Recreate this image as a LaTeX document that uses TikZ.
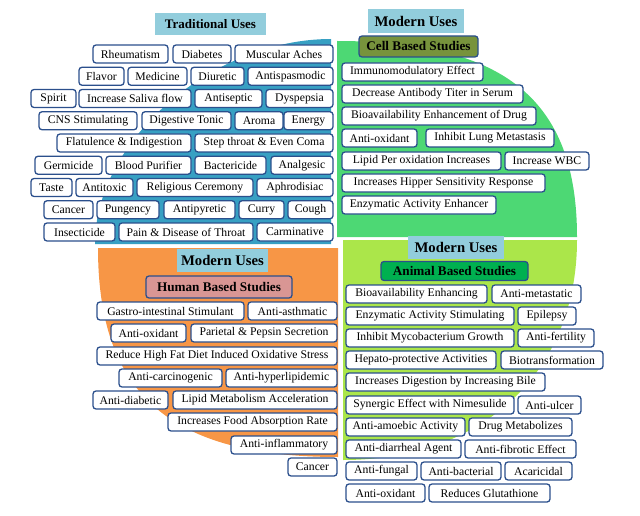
\documentclass[tikz,border=0pt]{standalone}
\usepackage{fontspec}
\setmainfont{Liberation Serif}
\definecolor{tealq}{HTML}{37A0C3}
\definecolor{greenq}{HTML}{4DD874}
\definecolor{limeq}{HTML}{ABE64A}
\definecolor{orangeq}{HTML}{F79646}
\definecolor{headblue}{HTML}{92CDDC}
\definecolor{cellolive}{HTML}{77933C}
\definecolor{humanrose}{HTML}{D99694}
\definecolor{animalgreen}{HTML}{00B050}
\definecolor{boxline}{HTML}{2B4F8C}
\newcommand{\itemfont}{\fontsize{11.7}{13}\selectfont}
\begin{document}
\begin{tikzpicture}[x=1pt, y=-1pt,
    usebox/.style={draw=boxline, line width=1.3pt, fill=white, rounded corners=3pt,
        minimum height=18, inner sep=1pt, font=\itemfont},
    headbox/.style={fill=headblue, inner sep=1pt, font=\fontsize{14.7}{16}\selectfont\bfseries},
    studybox/.style={draw=boxline, line width=1.3pt, rounded corners=3pt, inner sep=1pt,
        font=\fontsize{13.2}{15}\selectfont\bfseries}]
        \useasboundingbox (0,0) rectangle (640,516);
        % background quarters
        \fill[tealq] (331,39) .. controls (213,39) and (95,140) .. (95,244) -- (331,244) -- cycle;
        \fill[greenq] (337,41) .. controls (505,41) and (577,100) .. (577,237) -- (337,237) -- cycle;
        \fill[orangeq] (98,248) .. controls (98,394) and (170,457) .. (338,457) -- (338,248) -- cycle;
        \fill[limeq] (343,240) -- (577,240) .. controls (577,372) and (483,460) .. (343,460) -- cycle;
        % traditional uses
        \node[headbox, font=\fontsize{13}{15}\selectfont\bfseries, minimum width=111, minimum height=22] (trad) at (210.5,24) {Traditional Uses};
        \node[usebox, minimum width=75] (rheum) at (130.5,54) {Rheumatism};
        \node[usebox, minimum width=58] (diab) at (202,54) {Diabetes};
        \node[usebox, minimum width=98] (muscl) at (284,54) {Muscular Aches};
        \node[usebox, minimum width=45] (flavor) at (101.5,76.25) {Flavor};
        \node[usebox, minimum width=59] (medic) at (157.5,76.25) {Medicine};
        \node[usebox, minimum width=53] (diuret) at (217.5,76.25) {Diuretic};
        \node[usebox, minimum width=85] (antisp) at (290.5,76.25) {Antispasmodic};
        \node[usebox, minimum width=45] (spirit) at (53.5,98.5) {Spirit};
        \node[usebox, minimum width=112] (saliva) at (135,98.5) {Increase Saliva flow};
        \node[usebox, minimum width=67] (antisep) at (228.5,98.5) {Antiseptic};
        \node[usebox, minimum width=67] (dysp) at (299.5,98.5) {Dyspepsia};
        \node[usebox, minimum width=98] (cns) at (88,120.75) {CNS Stimulating};
        \node[usebox, minimum width=89] (digton) at (186.5,120.75) {Digestive Tonic};
        \node[usebox, minimum width=48] (aroma) at (259,120.75) {Aroma};
        \node[usebox, minimum width=49] (energy) at (308.5,120.75) {Energy};
        \node[usebox, minimum width=134] (flatul) at (124,143) {Flatulence \& Indigestion};
        \node[usebox, minimum width=138] (stepth) at (264,143) {Step throat \& Even Coma};
        \node[usebox, minimum width=67] (germ) at (68.5,165.25) {Germicide};
        \node[usebox, minimum width=85] (blood) at (148.5,165.25) {Blood Purifier};
        \node[usebox, minimum width=71] (bact) at (230.5,165.25) {Bactericide};
        \node[usebox, minimum width=62] (analg) at (302,165.25) {Analgesic};
        \node[usebox, minimum width=41] (taste) at (51.5,187.5) {Taste};
        \node[usebox, minimum width=57] (antitox) at (104.5,187.5) {Antitoxic};
        \node[usebox, minimum width=116] (relig) at (195,187.5) {Religious Ceremony};
        \node[usebox, minimum width=76] (aphro) at (295,187.5) {Aphrodisiac};
        \node[usebox, minimum width=49] (cancer) at (68.5,209.75) {Cancer};
        \node[usebox, minimum width=62] (pung) at (128,209.75) {Pungency};
        \node[usebox, minimum width=71] (antipyr) at (199.5,209.75) {Antipyretic};
        \node[usebox, minimum width=45] (curry) at (261.5,209.75) {Curry};
        \node[usebox, minimum width=45] (cough) at (310.5,209.75) {Cough};
        \node[usebox, minimum width=71] (insect) at (79.5,232) {Insecticide};
        \node[usebox, minimum width=134] (pain) at (186,232) {Pain \& Disease of Throat};
        \node[usebox, minimum width=76] (carmin) at (295,232) {Carminative};
        % modern uses: cell based
        \node[headbox, minimum width=96, minimum height=24] (modcell) at (416,21) {Modern Uses};
        \node[studybox, fill=cellolive, minimum width=119, minimum height=21] (cellstud) at (418.5,46.5) {Cell Based Studies};
        \node[usebox, minimum width=141] (immuno) at (412.5,72) {Immunomodulatory Effect};
        \node[usebox, minimum width=181] (antibody) at (432.5,94) {Decrease Antibody Titer in Serum};
        \node[usebox, minimum width=194] (bioenh) at (439,116) {Bioavailability Enhancement of Drug};
        \node[usebox, minimum width=75] (antioxc) at (379.5,138) {Anti-oxidant};
        \node[usebox, minimum width=128] (lungmet) at (490,138) {Inhibit Lung Metastasis};
        \node[usebox, minimum width=159] (lipidper) at (421.5,161) {Lipid Per oxidation Increases};
        \node[usebox, minimum width=84] (wbc) at (547,161) {Increase WBC};
        \node[usebox, minimum width=203] (hipper) at (443.5,183) {Increases Hipper Sensitivity Response};
        \node[usebox, minimum width=154] (enzenh) at (419,205) {Enzymatic Activity Enhancer};
        % modern uses: human based
        \node[headbox, minimum width=91, minimum height=23] (modhum) at (222.5,260.5) {Modern Uses};
        \node[studybox, fill=humanrose, minimum width=146, minimum height=22] (humstud) at (219,287) {Human Based Studies};
        \node[usebox, minimum width=147] (gastro) at (170.5,311) {Gastro-intestinal Stimulant};
        \node[usebox, minimum width=89] (asthm) at (292.5,311) {Anti-asthmatic};
        \node[usebox, minimum width=75] (antioxh) at (148.5,333) {Anti-oxidant};
        \node[usebox, minimum width=146] (pariet) at (264,333) {Parietal \& Pepsin Secretion};
        \node[usebox, minimum width=240] (reduce) at (217,356) {Reduce High Fat Diet Induced Oxidative Stress};
        \node[usebox, minimum width=103] (carcin) at (170.5,378) {Anti-carcinogenic};
        \node[usebox, minimum width=111] (hyperl) at (281.5,378) {Anti-hyperlipidemic};
        \node[usebox, minimum width=75] (diabet) at (130.5,400) {Anti-diabetic};
        \node[usebox, minimum width=164] (lipmet) at (255,400) {Lipid Metabolism Acceleration};
        \node[usebox, minimum width=169] (foodabs) at (252.5,422) {Increases Food Absorption Rate};
        \node[usebox, minimum width=106] (inflam) at (284,445) {Anti-inflammatory};
        \node[usebox, minimum width=49] (cancerh) at (312.5,467) {Cancer};
        % modern uses: animal based
        \node[headbox, minimum width=96, minimum height=23] (modani) at (456,247.5) {Modern Uses};
        \node[studybox, fill=animalgreen, minimum width=147, minimum height=19] (anistud) at (454.5,271) {Animal Based Studies};
        \node[usebox, minimum width=141] (bioenha) at (416.5,294) {Bioavailability Enhancing};
        \node[usebox, minimum width=89] (metast) at (536.5,294) {Anti-metastatic};
        \node[usebox, minimum width=168] (enzstim) at (430,316) {Enzymatic Activity Stimulating};
        \node[usebox, minimum width=58] (epil) at (547,316) {Epilepsy};
        \node[usebox, minimum width=168] (mycob) at (430,338) {Inhibit Mycobacterium Growth};
        \node[usebox, minimum width=76] (fertil) at (556,338) {Anti-fertility};
        \node[usebox, minimum width=150] (hepato) at (421,360) {Hepato-protective Activities};
        \node[usebox, minimum width=102] (biotr) at (552,360) {Biotransformation};
        \node[usebox, minimum width=199] (bile) at (445.5,382) {Increases Digestion by Increasing Bile};
        \node[usebox, minimum width=168] (synerg) at (430,405) {Synergic Effect with Nimesulide};
        \node[usebox, minimum width=63] (ulcer) at (549.5,405) {Anti-ulcer};
        \node[usebox, minimum width=119] (amoeb) at (405.5,427) {Anti-amoebic Activity};
        \node[usebox, minimum width=103] (drugmet) at (520.5,427) {Drug Metabolizes};
        \node[usebox, minimum width=115] (diarr) at (403.5,449) {Anti-diarrheal Agent};
        \node[usebox, minimum width=111] (fibrot) at (520.5,449) {Anti-fibrotic Effect};
        \node[usebox, minimum width=71] (fungal) at (381.5,471) {Anti-fungal};
        \node[usebox, minimum width=80] (bacter) at (461,471) {Anti-bacterial};
        \node[usebox, minimum width=67] (acaric) at (538.5,471) {Acaricidal};
        \node[usebox, minimum width=79] (antioxa) at (385.5,493) {Anti-oxidant};
        \node[usebox, minimum width=121] (gluta) at (489.5,493) {Reduces Glutathione};
    \end{tikzpicture}
\end{document}
